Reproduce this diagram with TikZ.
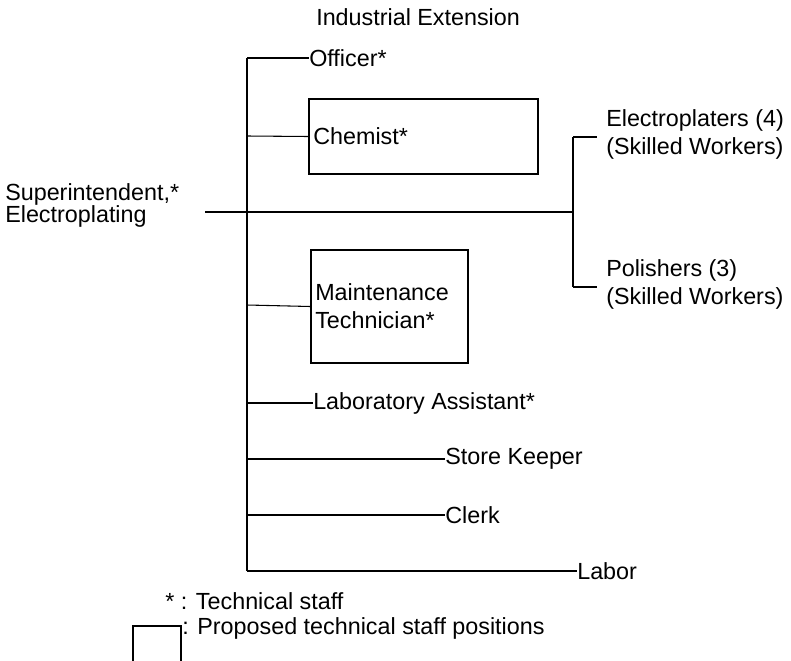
\documentclass[tikz,border=0pt]{standalone}
\usepackage{fontspec}
\setmainfont{Liberation Sans}
\begin{document}
\begin{tikzpicture}[x=0.75pt,y=-0.75pt,
  every node/.style={font=\fontsize{17.5}{21}\selectfont, inner sep=0pt, anchor=west, align=left},
  branch/.style={line width=0.8pt},
  spine/.style={line width=2pt},
  propbox/.style={draw, line width=1.2pt, anchor=center}]
\useasboundingbox (0,0) rectangle (791,660);
% spine
\coordinate (top) at (247,58);
\coordinate (bot) at (247,571);
\draw[spine] (top) -- (bot);
% officer
\node (ind) at (316,17) {Industrial Extension};
\node (off) at (309,58) {Officer*};
\draw[branch] (top) -- (off.west);
% chemist
\node[propbox, minimum width=229*0.75pt, minimum height=75*0.75pt] (chem) at (423.5,136.5) {};
\node (chemt) at (313,136) {Chemist*};
\draw[branch] (247,136) -- (chem.west);
% superintendent
\node[font=\fontsize{17.5}{16.5}\selectfont] (sup) at (5,205) {Superintendent,*\\Electroplating};
\coordinate (supend) at (205,212);
\coordinate (br) at (573,212);
\draw[branch] (supend) -- (br);
% bracket
\coordinate (brt) at (573,137);
\coordinate (brb) at (573,287);
\draw[spine, line width=1.6pt] (brt) -- (brb);
\coordinate (tt) at (597,137);
\coordinate (tb) at (597,287);
\draw[branch] (brt) -- (tt);
\draw[branch] (brb) -- (tb);
\node (elec) at (606,134) {Electroplaters (4)\\(Skilled Workers)};
\node (pol) at (606,284) {Polishers (3)\\(Skilled Workers)};
% maintenance
\node[propbox, minimum width=157*0.75pt, minimum height=113*0.75pt] (mnt) at (389.5,306.5) {};
\node (mntt) at (315,306) {Maintenance\\Technician*};
\draw[branch] (247,305) -- (mnt.west);
% lab assistant
\node (lab) at (313,403) {Laboratory Assistant*};
\draw[branch] (247,403) -- (lab.west);
% store keeper
\node (store) at (445,459) {Store Keeper};
\draw[branch] (247,459) -- (store.west);
% clerk
\node (clerk) at (445,515) {Clerk};
\draw[branch] (247,515) -- (clerk.west);
% labor
\node (labor) at (577,571) {Labor};
\draw[branch] (bot) -- (labor.west);
% legend
\node (leg1) at (165,601) {* : Technical staff};
\coordinate (lb1) at (133,662);
\coordinate (lb2) at (133,626);
\coordinate (lb3) at (181,626);
\coordinate (lb4) at (181,662);
\draw[line width=1.2pt] (lb1) -- (lb2) -- (lb3) -- (lb4);
\node (leg2) at (182,628) {: Proposed technical staff positions};
\end{tikzpicture}
\end{document}
